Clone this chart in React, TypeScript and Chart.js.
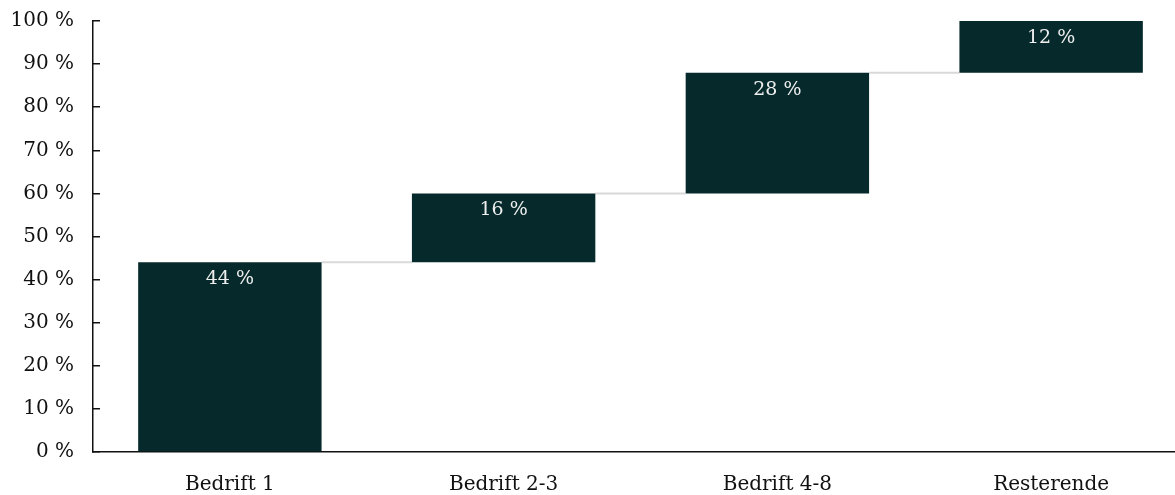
import React, { useEffect, useRef } from "react";
import { Chart, registerables } from "chart.js";

Chart.register(...registerables);

// Share of the total, per group of companies
const categories = ["Bedrift 1", "Bedrift 2-3", "Bedrift 4-8", "Resterende"];
const shares = [44, 16, 28, 12];
const yTicks = [0, 10, 20, 30, 40, 50, 60, 70, 80, 90, 100];

const BAR_COLOR = "#06292b";
const CONNECTOR_COLOR = "#d9d9d9";
const AXIS_COLOR = "#111111";
const TEXT_COLOR = "#111111";
const FONT_FAMILY = "'DejaVu Serif', 'Liberation Serif', serif";

// Waterfall segments: each bar floats from the running total to the next one
const segments: [number, number][] = (() => {
  let acc = 0;
  return shares.map((v) => {
    const seg: [number, number] = [acc, acc + v];
    acc += v;
    return seg;
  });
})();

const connectorPlugin = {
  id: "waterfallConnectors",
  beforeDatasetsDraw(chart: any) {
    const meta = chart.getDatasetMeta(0);
    const yScale = chart.scales.y;
    const ctx = chart.ctx;
    ctx.save();
    ctx.strokeStyle = CONNECTOR_COLOR;
    ctx.lineWidth = 2;
    for (let i = 0; i < meta.data.length - 1; i++) {
      const a = meta.data[i];
      const b = meta.data[i + 1];
      const y = yScale.getPixelForValue(segments[i][1]);
      ctx.beginPath();
      ctx.moveTo(a.x + a.width / 2, y);
      ctx.lineTo(b.x - b.width / 2, y);
      ctx.stroke();
    }
    ctx.restore();
  },
};

const valueLabelPlugin = {
  id: "waterfallValueLabels",
  afterDatasetsDraw(chart: any) {
    const meta = chart.getDatasetMeta(0);
    const yScale = chart.scales.y;
    const ctx = chart.ctx;
    ctx.save();
    ctx.fillStyle = "#eeeeee";
    ctx.font = `19px ${FONT_FAMILY}`;
    ctx.textAlign = "center";
    ctx.textBaseline = "alphabetic";
    meta.data.forEach((bar: any, i: number) => {
      const top = yScale.getPixelForValue(segments[i][1]);
      ctx.fillText(`${shares[i]} %`, bar.x, top + 22);
    });
    ctx.restore();
  },
};

export default function App() {
  const canvasRef = useRef<HTMLCanvasElement | null>(null);

  useEffect(() => {
    document.body.style.margin = "0";
    const canvas = canvasRef.current;
    if (!canvas) return;
    const chart = new Chart(canvas, {
      type: "bar",
      data: {
        labels: categories,
        datasets: [
          {
            data: segments as any,
            backgroundColor: BAR_COLOR,
            borderWidth: 0,
            categoryPercentage: 1,
            barPercentage: 0.67,
          },
        ],
      },
      options: {
        responsive: false,
        animation: false,
        devicePixelRatio: 1,
        layout: { padding: { top: 21, right: 2, bottom: 0, left: 0 } },
        plugins: {
          legend: { display: false },
          tooltip: { enabled: false },
        },
        scales: {
          x: {
            afterFit: (scale: any) => {
              scale.height = 43;
            },
            grid: { display: false, drawTicks: false },
            border: { display: true, color: AXIS_COLOR, width: 1.5 },
            ticks: {
              color: TEXT_COLOR,
              padding: 21,
              font: { family: FONT_FAMILY, size: 20 },
              maxRotation: 0,
            },
          },
          y: {
            min: 0,
            max: 100,
            afterBuildTicks: (scale: any) => {
              scale.ticks = yTicks.map((v) => ({ value: v }));
            },
            afterFit: (scale: any) => {
              scale.width = 93;
              scale.paddingTop = 0;
              scale.paddingBottom = 0;
            },
            grid: {
              display: true,
              drawOnChartArea: false,
              drawTicks: true,
              tickLength: -7,
              color: AXIS_COLOR,
              lineWidth: 1.5,
            },
            border: { display: true, color: AXIS_COLOR, width: 1.5 },
            ticks: {
              color: TEXT_COLOR,
              padding: 26,
              font: { family: FONT_FAMILY, size: 20 },
              callback: (v: any) => `${v} %`,
            },
          },
        },
      },
      plugins: [connectorPlugin, valueLabelPlugin],
    });
    return () => chart.destroy();
  }, []);

  return (
    <div style={{ width: 1175, height: 495, overflow: "hidden", position: "relative" }}>
      <canvas ref={canvasRef} width={1190} height={495} style={{ display: "block" }} />
    </div>
  );
}
